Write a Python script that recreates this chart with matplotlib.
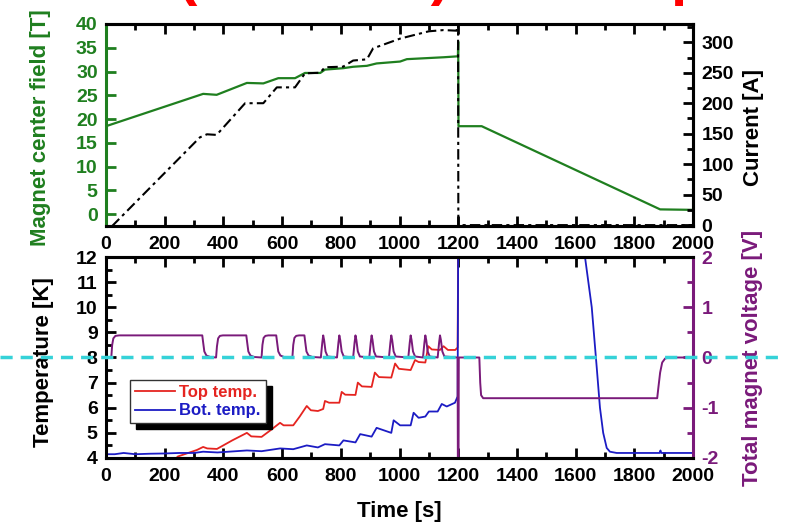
import matplotlib
matplotlib.use("Agg")
import matplotlib.pyplot as plt
import matplotlib.transforms as mtransforms
from matplotlib.lines import Line2D
from matplotlib.patches import Rectangle
from matplotlib.ticker import MultipleLocator

plt.rcParams['font.family'] = ['Liberation Sans', 'DejaVu Sans']
plt.rcParams['font.weight'] = 'bold'
plt.rcParams['axes.labelweight'] = 'bold'
plt.rcParams['axes.unicode_minus'] = False

GREEN = '#1f7f1f'
PURPLE = '#7a1a7a'
RED = '#e52420'
BLUE = '#1c1cc4'
CYAN = '#35d2d8'

# top panel: magnet centre field [T] (left) and current [A] (right)
time_field = [0, 331, 377, 480, 536, 587, 644, 678, 730, 746, 808, 842, 889, 922,
              1002, 1025, 1150, 1199, 1200, 1201, 1280, 1888, 2000]
field_T = [18.5, 25.3, 25.1, 27.6, 27.5, 28.6, 28.6, 29.7, 29.7, 30.4, 30.7, 31.0, 31.2, 31.7,
           32.1, 32.6, 33.0, 33.2, 36.3, 18.5, 18.5, 1.0, 0.9]

time_current = [20, 320, 344, 377, 474, 536, 582, 644, 678, 729, 746, 808, 842, 889, 910,
                1002, 1100, 1150, 1195, 1199.5, 1200.5, 2000]
current_A = [-2, 144, 149, 148, 200, 200, 226, 226, 249, 250, 259, 260, 270, 272, 290,
             306, 318, 320, 319, 340, 0, 0]

# bottom panel: total magnet voltage [V] (right)
time_volt = [0, 18, 21, 25, 32, 45, 328, 331, 335, 342, 355, 375, 378, 382, 388, 398,
             478, 481, 485, 492, 505, 530, 533, 537, 543, 553, 580, 583, 587, 594, 607,
             635, 638, 642, 648, 658, 676, 679, 683, 690, 703,
             732, 737, 740, 743, 748, 755,
             787, 792, 795, 798, 803, 810,
             842, 847, 850, 853, 858, 865,
             897, 902, 905, 908, 913, 920,
             964, 969, 972, 975, 980, 987,
             1030, 1035, 1038, 1041, 1046, 1053,
             1080, 1085, 1088, 1091, 1096, 1103,
             1130, 1135, 1138, 1141, 1146, 1153,
             1198, 1199, 1201, 1202, 1272, 1275, 1278, 1285, 1878, 1882, 1888, 1895,
             1905, 1920, 2000]
volt_V = [0, 0, 0.25, 0.38, 0.43, 0.44, 0.44, 0.3, 0.12, 0.04, 0.01, 0, 0.22, 0.38, 0.43, 0.44,
          0.44, 0.3, 0.12, 0.04, 0.01, 0, 0.25, 0.39, 0.43, 0.44, 0.44, 0.3, 0.12, 0.04, 0.01,
          0, 0.25, 0.39, 0.43, 0.44, 0.44, 0.3, 0.12, 0.04, 0.01,
          0, 0.3, 0.44, 0.35, 0.12, 0.02,
          0, 0.3, 0.44, 0.35, 0.12, 0.02,
          0, 0.3, 0.44, 0.35, 0.12, 0.02,
          0, 0.3, 0.44, 0.35, 0.12, 0.02,
          0, 0.3, 0.44, 0.35, 0.12, 0.02,
          0, 0.3, 0.44, 0.35, 0.12, 0.02,
          0, 0.3, 0.44, 0.35, 0.12, 0.02,
          0, 0.3, 0.44, 0.35, 0.12, 0.02,
          0, -2.5, -2.5, 0, 0, -0.5, -0.75, -0.81, -0.81, -0.6, -0.3, -0.1,
          -0.02, 0, 0]

# bottom panel: temperatures [K] (left)
time_top = [0, 235, 245, 280, 310, 331, 345, 378, 430, 480, 495, 530, 560, 593, 605, 638,
            660, 684, 698, 722, 740, 746, 760, 795, 803, 815, 850, 858, 872, 905, 916,
            930, 972, 985, 998, 1038, 1053, 1065, 1088, 1098, 1110, 1138, 1150, 1165,
            1190, 1198, 1200]
temp_top = [3.9, 3.95, 4.06, 4.2, 4.32, 4.44, 4.38, 4.36, 4.7, 5.0, 4.86, 4.84, 5.1, 5.4, 5.3, 5.3,
            5.65, 6.07, 5.9, 5.87, 5.95, 6.27, 6.2, 6.2, 6.63, 6.52, 6.51, 7.0, 6.85, 6.83, 7.4,
            7.22, 7.2, 7.76, 7.55, 7.5, 7.9, 7.82, 7.8, 8.45, 8.32, 8.3, 8.45, 8.3,
            8.3, 8.4, 12.5]

time_bot = [0, 30, 60, 100, 150, 200, 250, 300, 331, 380, 480, 530, 593, 638, 684, 722,
            746, 795, 809, 850, 866, 905, 922, 972, 980, 1002, 1038, 1048, 1065, 1088,
            1100, 1130, 1144, 1161, 1189, 1198, 1200, 1625, 1632, 1655, 1672, 1683, 1694,
            1706, 1717, 1740, 1886, 1889, 1892, 2000]
temp_bot = [4.15, 4.15, 4.2, 4.15, 4.17, 4.18, 4.2, 4.2, 4.25, 4.22, 4.3, 4.27, 4.38, 4.35,
            4.5, 4.42, 4.55, 4.5, 4.7, 4.62, 4.95, 4.85, 5.2, 5.0, 5.5, 5.3, 5.3, 5.8, 5.6,
            5.65, 5.85, 5.85, 6.15, 6.05, 6.2, 6.45, 12.5, 12.5, 12.0, 10.0, 7.6, 6.0, 5.0,
            4.4, 4.25, 4.2, 4.2, 4.3, 4.2, 4.2]

zero_volt_temp = 8  # 0 V on the right axis sits at 8 K on the left axis


def style_x(ax):
    ax.set_xlim(0, 2000)
    ax.xaxis.set_major_locator(MultipleLocator(200))
    ax.xaxis.set_minor_locator(MultipleLocator(100))
    ax.tick_params(axis='x', which='both', direction='in', top=True, bottom=True,
                   width=2, labelsize=14, pad=7)
    ax.tick_params(axis='x', which='major', length=7)
    ax.tick_params(axis='x', which='minor', length=4)


def style_y(ax, color, major, minor=None):
    ax.yaxis.set_major_locator(MultipleLocator(major))
    if minor:
        ax.yaxis.set_minor_locator(MultipleLocator(minor))
    ax.tick_params(axis='y', which='both', direction='in', colors=color, width=2,
                   labelsize=14, pad=6)
    ax.tick_params(axis='y', which='major', length=7)
    ax.tick_params(axis='y', which='minor', length=4)


fig = plt.figure(figsize=(7.94, 5.26), dpi=100)
ax1 = fig.add_axes([0.1335, 0.5703, 0.7393, 0.3841])
ax1r = ax1.twinx()
ax2 = fig.add_axes([0.1335, 0.1293, 0.7393, 0.3821])
ax2r = ax2.twinx()

# --- top panel
ax1.plot(time_field, field_T, color=GREEN, lw=1.6)
ax1r.plot(time_current, current_A, color='black', lw=1.5, ls=(0, (5, 2, 1.5, 2)))
style_x(ax1)
ax1.set_ylim(-2.5, 40)
style_y(ax1, GREEN, 5)
ax1r.set_ylim(-1.5, 330)
style_y(ax1r, 'black', 50, 25)
ax1.set_ylabel('Magnet center field [T]', color=GREEN, fontsize=16, va='center')
ax1.yaxis.set_label_coords(-0.111, 0.485)
ax1r.set_ylabel('Current [A]', color='black', fontsize=16, va='center')
ax1r.yaxis.set_label_coords(1.103, 0.49)

# --- bottom panel
ax2.plot(time_top, temp_top, color=RED, lw=1.3, label='Top temp.')
ax2.plot(time_bot, temp_bot, color=BLUE, lw=1.3, label='Bot. temp.')
ax2r.plot(time_volt, volt_V, color=PURPLE, lw=1.4)
style_x(ax2)
ax2.set_ylim(4, 12)
style_y(ax2, 'black', 1, 0.5)
ax2r.set_ylim(-2, 2)
style_y(ax2r, PURPLE, 1, 0.5)
ax2.set_ylabel('Temperature [K]', fontsize=16, va='center')
ax2.yaxis.set_label_coords(-0.106, 0.478)
ax2r.set_ylabel('Total magnet voltage [V]', color=PURPLE, fontsize=16, va='center')
ax2r.yaxis.set_label_coords(1.101, 0.497)
ax2.set_xlabel('Time [s]', fontsize=16, va='center')
ax2.xaxis.set_label_coords(0.5, -0.264)

# spines
for ax in (ax1, ax1r, ax2, ax2r):
    for sp in ax.spines.values():
        sp.set_linewidth(2.2)
ax1r.spines['left'].set_visible(False)
ax1.spines['left'].set_color(GREEN)
ax2r.spines['left'].set_visible(False)
ax2.spines['right'].set_visible(False)
ax2r.spines['right'].set_color(PURPLE)

# dashed cyan reference line at 0 V / 8 K, running across the figure
trans = mtransforms.blended_transform_factory(fig.transFigure, ax2.transData)
ax2r.add_line(Line2D([0, 0.982], [zero_volt_temp, zero_volt_temp], transform=trans,
                     color=CYAN, lw=2.5, ls=(0, (3.5, 2.3)), clip_on=False, zorder=10))

leg = ax2.legend(loc='upper left', bbox_to_anchor=(0.041, 0.388), fontsize=12,
                 labelcolor='linecolor', handlelength=2.4, handletextpad=0.25,
                 borderpad=0.3, labelspacing=0.2, borderaxespad=0, fancybox=False,
                 framealpha=1, edgecolor='#333333')
leg.get_frame().set_linewidth(1.0)
leg.set_zorder(6)

# red heading, only its lowest strokes fall inside the picture
fig.text(178 / 794, 1 + 6 / 526, '(HTS coil)  Start-up test', color='red', fontsize=42,
         ha='left', va='baseline')

fig.canvas.draw()
bb = leg.get_window_extent()
ax2.add_artist(Rectangle((bb.x0 + 6, bb.y0 - 6), bb.width, bb.height,
                         transform=mtransforms.IdentityTransform(), color='black',
                         zorder=5.5))

fig.savefig('out.png', dpi=100)
